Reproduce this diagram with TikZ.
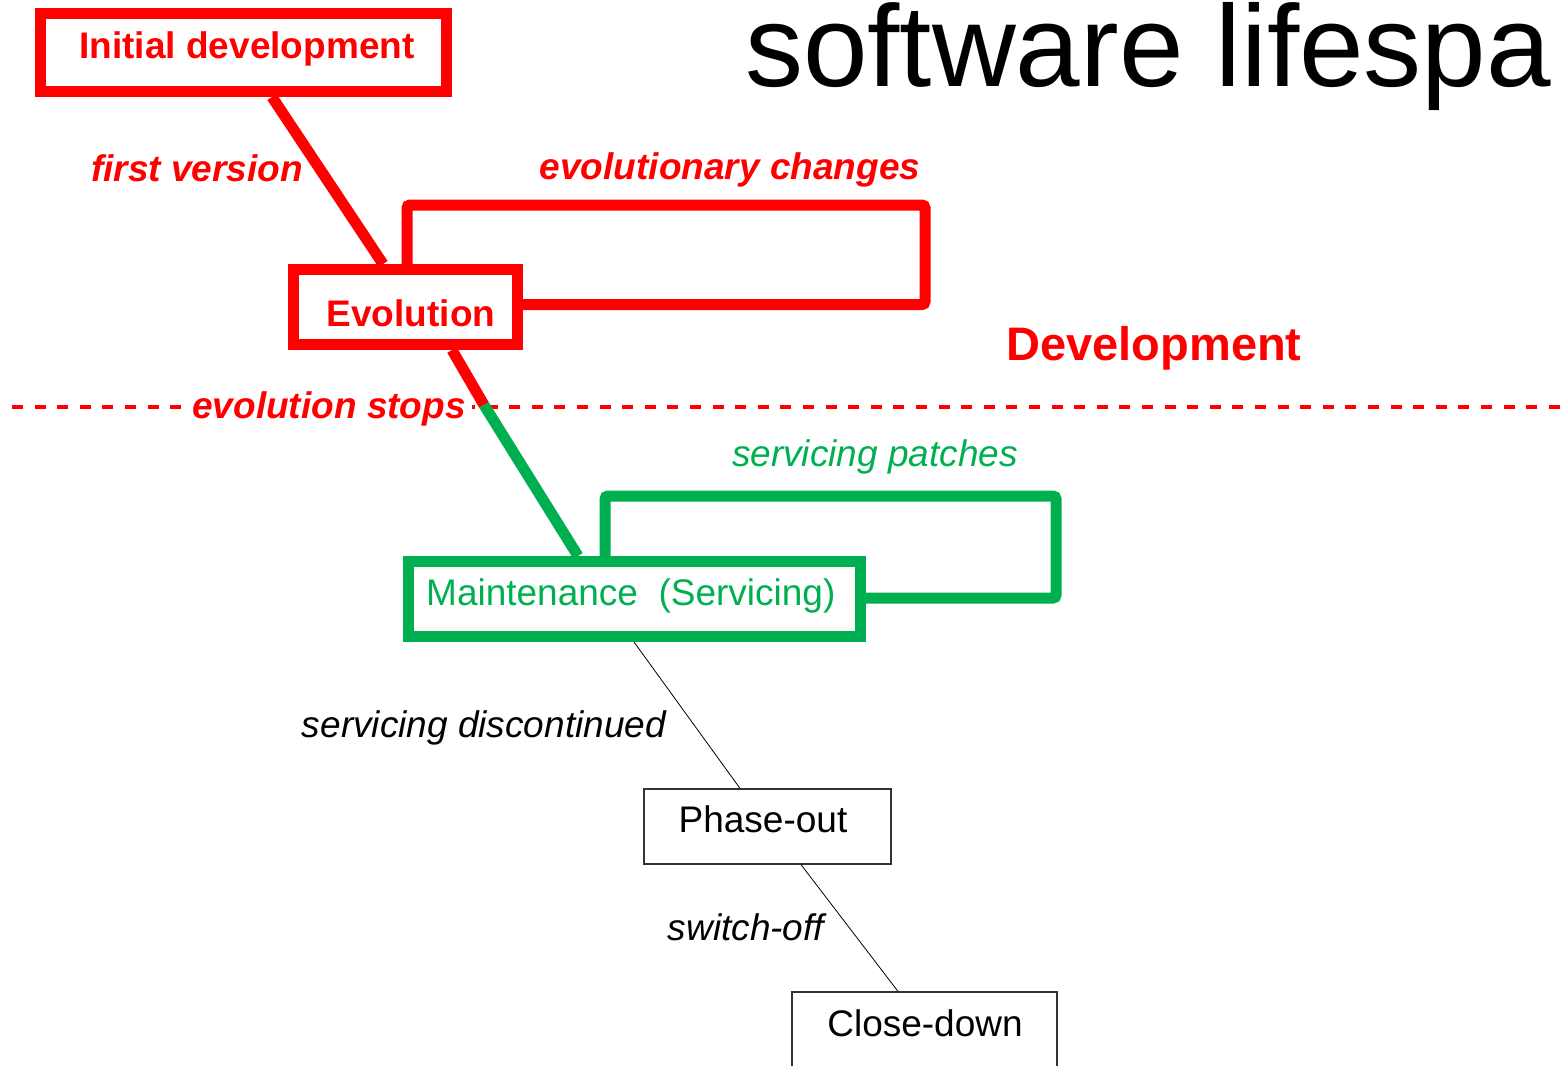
\documentclass[tikz,border=0pt]{standalone}
\usepackage{fontspec}
\setmainfont{Liberation Sans}
\definecolor{myred}{HTML}{FF0000}
\definecolor{mygreen}{HTML}{00B050}
\begin{document}
\begin{tikzpicture}[x=1pt,y=-1pt,
  fs/.style={font=\fontsize{37}{40}\selectfont},
  redbox/.style={draw=myred,line width=11pt,rectangle,inner sep=0pt},
  greenbox/.style={draw=mygreen,line width=11pt,rectangle,inner sep=0pt},
  thinbox/.style={draw=black!80,line width=1.2pt,rectangle,inner sep=0pt},
  redl/.style={draw=myred,line width=11pt},
  greenl/.style={draw=mygreen,line width=11pt},
  thinl/.style={draw=black,line width=0.8pt},
  lbl/.style={inner sep=0pt,anchor=base},
  boldred/.style={lbl,fs,text=myred,font=\fontsize{37}{40}\selectfont\bfseries},
  bitred/.style={lbl,text=myred,font=\fontsize{37}{40}\selectfont\bfseries\itshape},
  itgreen/.style={lbl,text=mygreen,font=\fontsize{37}{40}\selectfont\itshape},
  itblack/.style={lbl,text=black,font=\fontsize{37}{40}\selectfont\itshape},
  plain/.style={lbl,text=black,font=\fontsize{37}{40}\selectfont}
]
\clip (0,0) rectangle (1562,1065);
\useasboundingbox (0,0) rectangle (1562,1065);

% title
\node[inner sep=0pt,anchor=base west,font=\fontsize{116}{116}\selectfont] (title) at (745,86) {software lifespa};

% boxes
\node[redbox,minimum width=406pt,minimum height=78pt] (init) at (243.5,52.5) {};
\node[redbox,minimum width=224pt,minimum height=75pt] (evo) at (405.5,307) {};
\node[greenbox,minimum width=452pt,minimum height=75pt] (maint) at (634.5,599) {};
\node[thinbox,minimum width=247pt,minimum height=75pt] (phase) at (767.5,826.5) {};
\node[thinbox,minimum width=265pt,minimum height=75pt] (close) at (924.5,1029.5) {};

% box texts
\node[boldred] (tinit) at (247,59) {Initial development};
\node[boldred] (tevo) at (411,326) {Evolution};
\node[lbl,anchor=base west,text=mygreen,font=\fontsize{37}{40}\selectfont] (tmaint) at (426,605) {Maintenance\ \ (Servicing)};
\node[plain] (tphase) at (763,832) {Phase-out};
\node[plain] (tclose) at (925,1036) {Close-down};

% dashed boundary
\coordinate (dl) at (12,407);
\coordinate (dr) at (1562,407);
\draw[myred,line width=4pt,dash pattern=on 11pt off 11.6pt] (dl) -- (dr);

% labels
\node[bitred] (lfirst) at (197,181) {first version};
\node[bitred] (levch) at (730,179) {evolutionary changes};
\node[lbl,text=myred,font=\fontsize{47}{50}\selectfont\bfseries] (ldev) at (1154,360) {Development};
\node[bitred,fill=white,inner xsep=6pt] (lstop) at (329,418) {evolution stops};
\node[itgreen] (lpatch) at (875,466) {servicing patches};
\node[itblack] (ldisc) at (484,737) {servicing discontinued};
\node[itblack] (lswitch) at (746,940) {switch-off};

% connectors
\coordinate (stop) at (484,405);
\draw[redl] (init.south -| 272,0) -- (evo.north -| 383,0);
\draw[redl] (evo.south -| 452,0) -- (stop);
\draw[greenl] (stop) -- (maint.north -| 578,0);
\draw[redl,rounded corners=3pt] (evo.north -| 407,0) |- (925,205) |- (evo.east |- 0,304.5);
\draw[greenl,rounded corners=3pt] (maint.north -| 605,0) |- (1056,496) |- (maint.east |- 0,598);
\draw[thinl] (maint.south -| 634,0) -- (phase.north -| 740,0);
\draw[thinl] (phase.south -| 801,0) -- (close.north -| 898,0);
\end{tikzpicture}
\end{document}
